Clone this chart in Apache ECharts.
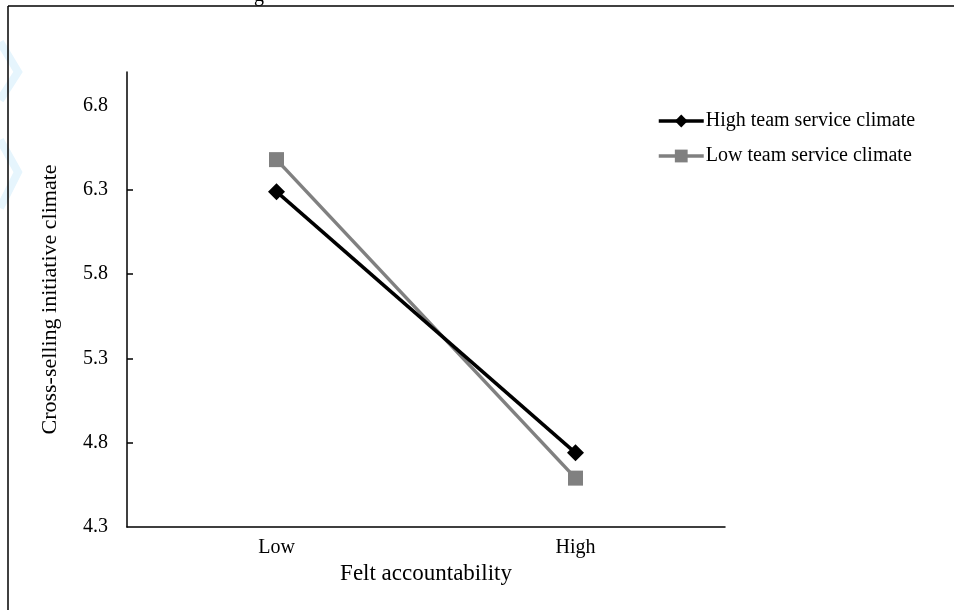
<!DOCTYPE html>
<html>
<head>
<meta charset="utf-8">
<script src="https://cdn.jsdelivr.net/npm/echarts@6/dist/echarts.min.js"></script>
<style>html,body{margin:0;padding:0;background:#fff}#c{width:954px;height:610px}</style>
</head>
<body>
<div id="c"></div>
<script>
const categories = ['Low', 'High'];
const highTeam = [6.29, 4.74];
const lowTeam = [6.48, 4.59];
const yLabels = [4.3, 4.8, 5.3, 5.8, 6.3, 6.8];
const yTicks = [4.8, 5.3, 5.8, 6.3];
const seriesNames = ['High team service climate', 'Low team service climate'];
const font = '"Liberation Serif", "Times New Roman", serif';

const chart = echarts.init(document.getElementById('c'));
chart.setOption({
  animation: false,
  backgroundColor: '#fff',
  textStyle: { fontFamily: font },
  grid: { left: 127, right: 229, top: 72, bottom: 83, containLabel: false },
  legend: {
    orient: 'vertical',
    left: 652,
    top: 106,
    itemWidth: 45,
    itemHeight: 16,
    itemGap: 15,
    lineStyle: { width: 3.5 },
    textStyle: { fontFamily: font, fontSize: 20, color: '#000', padding: [0, 0, 0, -3] },
    data: seriesNames
  },
  xAxis: {
    type: 'category',
    data: categories,
    boundaryGap: true,
    name: 'Felt accountability',
    nameLocation: 'middle',
    nameGap: 35,
    nameTextStyle: { fontFamily: font, fontSize: 23, color: '#000' },
    axisLine: { lineStyle: { color: '#000', width: 1.5 } },
    axisTick: { show: false },
    axisLabel: { fontFamily: font, fontSize: 20, color: '#000', margin: 11 }
  },
  yAxis: {
    type: 'value',
    min: 4.3,
    max: 7.0,
    name: 'Cross-selling initiative climate',
    nameLocation: 'middle',
    nameGap: 66,
    nameTextStyle: { fontFamily: font, fontSize: 22, color: '#000' },
    axisLine: { show: true, lineStyle: { color: '#000', width: 1.5 } },
    axisTick: { show: true, inside: true, length: 6, customValues: yTicks, lineStyle: { color: '#000', width: 1.5 } },
    axisLabel: { fontFamily: font, fontSize: 20, color: '#000', margin: 19, customValues: yLabels, formatter: v => v.toFixed(1) },
    splitLine: { show: false }
  },
  series: [
    {
      name: seriesNames[0],
      type: 'line',
      data: highTeam,
      symbol: 'diamond',
      symbolSize: 17,
      lineStyle: { color: '#000', width: 3.5 },
      itemStyle: { color: '#000' },
      z: 3
    },
    {
      name: seriesNames[1],
      type: 'line',
      data: lowTeam,
      symbol: 'rect',
      symbolSize: 15,
      lineStyle: { color: '#808080', width: 3.5 },
      itemStyle: { color: '#808080' },
      z: 2
    }
  ],
  graphic: [
    { type: 'polyline', silent: true, z: -1, shape: { points: [[0, 42], [18, 72], [0, 100]] }, style: { stroke: '#e6f5fd', lineWidth: 8, fill: null } },
    { type: 'polyline', silent: true, z: -1, shape: { points: [[0, 140], [18, 172], [0, 208]] }, style: { stroke: '#e6f5fd', lineWidth: 8, fill: null } },
    { type: 'line', silent: true, shape: { x1: 8, y1: 6, x2: 954, y2: 6 }, style: { stroke: '#000', lineWidth: 1.5 } },
    { type: 'line', silent: true, shape: { x1: 8, y1: 6, x2: 8, y2: 610 }, style: { stroke: '#000', lineWidth: 1.5 } },
    { type: 'text', silent: true, left: 254, top: -14, style: { text: 'g', font: '20px ' + font, fill: '#000' } }
  ]
});
</script>
</body>
</html>
